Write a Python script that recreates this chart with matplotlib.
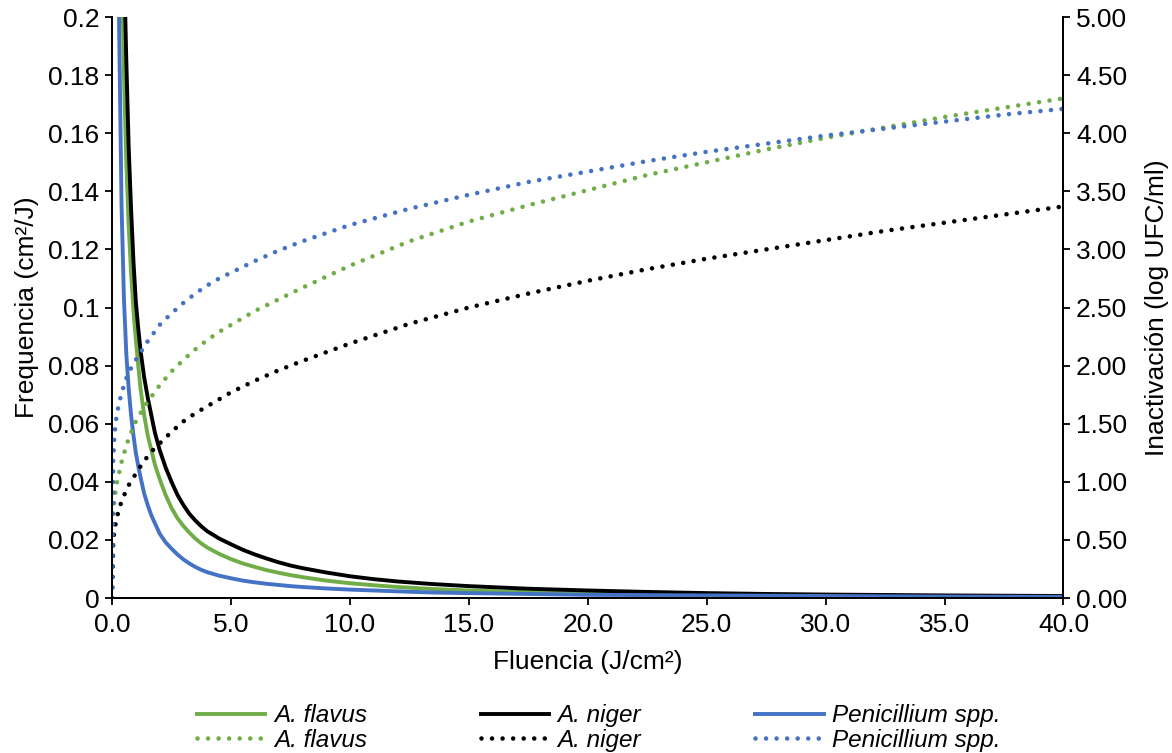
import matplotlib.pyplot as plt
from matplotlib.ticker import FuncFormatter, MultipleLocator

plt.rcParams['font.family'] = ['Liberation Sans', 'DejaVu Sans']

# frequency curves (left axis)
fluence_freq = [0.2, 0.3, 0.4, 0.5, 0.6, 0.7, 0.8, 0.9, 1.0, 1.1, 1.2, 1.35, 1.5, 1.65, 1.8,
                2.0, 2.25, 2.5, 2.75, 3.0, 3.25, 3.5, 3.75, 4.0, 4.5, 5.0, 5.5, 6.0, 6.5, 7.0,
                7.5, 8.0, 9.0, 10.0, 11.0, 12.0, 13.5, 15.0, 17.5, 20.0, 22.5, 25.0, 27.5,
                30.0, 35.0, 40.0]
freq_flavus = [0.45, 0.30, 0.225, 0.18, 0.150, 0.128, 0.112, 0.099, 0.089, 0.080, 0.072, 0.063,
               0.056, 0.051, 0.046, 0.041, 0.0355, 0.031, 0.0275, 0.0248, 0.0225, 0.0205,
               0.0188, 0.0174, 0.0152, 0.0134, 0.0119, 0.0107, 0.0096, 0.0087, 0.0079, 0.0072,
               0.0060, 0.0051, 0.0044, 0.0038, 0.0031, 0.0026, 0.0020, 0.0016, 0.0013, 0.0011,
               0.0009, 0.0008, 0.0006, 0.0005]
freq_niger = [0.55, 0.37, 0.28, 0.22, 0.185, 0.155, 0.134, 0.116, 0.102, 0.093, 0.085, 0.076,
              0.069, 0.063, 0.057, 0.051, 0.045, 0.040, 0.0355, 0.032, 0.029, 0.0267, 0.0247,
              0.023, 0.0205, 0.0185, 0.0166, 0.0150, 0.0136, 0.0123, 0.0112, 0.0103, 0.0088,
              0.0075, 0.0065, 0.0057, 0.0048, 0.0041, 0.0032, 0.0026, 0.0021, 0.0017, 0.0014,
              0.0012, 0.0009, 0.0007]
freq_penicillium = [0.29, 0.195, 0.135, 0.103, 0.084, 0.072, 0.063, 0.056, 0.050, 0.0455,
                    0.0415, 0.036, 0.032, 0.0285, 0.0258, 0.0222, 0.0192, 0.0170, 0.0150,
                    0.0133, 0.0119, 0.0107, 0.0097, 0.0089, 0.0077, 0.0068, 0.0060, 0.0054,
                    0.0049, 0.0045, 0.0041, 0.0038, 0.0033, 0.0029, 0.0026, 0.0023, 0.0019,
                    0.0017, 0.0014, 0.0011, 0.0010, 0.0009, 0.0008, 0.0007, 0.0005, 0.0004]

# inactivation curves (right axis)
fluence_inact = [0.0, 0.05, 0.1, 0.15, 0.2, 0.3, 0.4, 0.5, 0.6, 0.75, 1.0, 1.25, 1.5, 1.75,
                 2.0, 2.5, 3.0, 3.5, 4.0, 4.5, 5.0, 6.0, 7.0, 8.0, 10.0, 12.5, 15.0, 17.5,
                 20.0, 22.5, 25.0, 27.5, 30.0, 32.5, 35.0, 37.5, 40.0]
inact_flavus = [0.0, 0.72, 0.84, 0.92, 0.99, 1.08, 1.17, 1.24, 1.31, 1.40, 1.52, 1.61, 1.69,
                1.76, 1.83, 1.95, 2.05, 2.14, 2.22, 2.29, 2.35, 2.47, 2.57, 2.67, 2.86, 3.07,
                3.24, 3.38, 3.51, 3.64, 3.75, 3.86, 3.96, 4.05, 4.14, 4.22, 4.30]
inact_niger = [0.0, 0.50, 0.58, 0.64, 0.69, 0.77, 0.83, 0.88, 0.93, 0.99, 1.07, 1.15, 1.22,
               1.28, 1.33, 1.43, 1.52, 1.59, 1.65, 1.71, 1.77, 1.87, 1.96, 2.04, 2.19, 2.36,
               2.50, 2.62, 2.73, 2.83, 2.92, 3.00, 3.08, 3.16, 3.23, 3.30, 3.37]
inact_penicillium = [0.0, 1.18, 1.40, 1.50, 1.58, 1.68, 1.76, 1.83, 1.89, 1.96, 2.05, 2.13,
                     2.21, 2.28, 2.35, 2.45, 2.54, 2.62, 2.69, 2.75, 2.80, 2.90, 2.99, 3.07,
                     3.21, 3.35, 3.47, 3.58, 3.67, 3.76, 3.84, 3.91, 3.98, 4.04, 4.10, 4.16,
                     4.21]

names = ['A. flavus', 'A. niger', 'Penicillium spp.']
colors = ['#70AD47', '#000000', '#4472C4']

fig = plt.figure(figsize=(11.72, 7.53), dpi=100)
ax = fig.add_axes([0.0956, 0.2058, 0.8118, 0.7716])
ax2 = ax.twinx()

handles = []
freqs = [freq_flavus, freq_niger, freq_penicillium]
inacts = [inact_flavus, inact_niger, inact_penicillium]
for name, col, fr, ina in zip(names, colors, freqs, inacts):
    l1, = ax.plot(fluence_freq, fr, color=col, lw=2.8, solid_joinstyle='round')
    l2, = ax2.plot(fluence_inact, ina, color=col, lw=3.3,
                   linestyle=(0, (0.001, 2.3)), dash_capstyle='round')
    handles += [l1, l2]

ax.set_xlim(0, 40)
ax.set_ylim(0, 0.2)
ax2.set_ylim(0, 5)
ax.xaxis.set_major_locator(MultipleLocator(5))
ax.yaxis.set_major_locator(MultipleLocator(0.02))
ax2.yaxis.set_major_locator(MultipleLocator(0.5))
ax.xaxis.set_major_formatter(FuncFormatter(lambda v, p: f'{v:.1f}'))
ax.yaxis.set_major_formatter(FuncFormatter(lambda v, p: f'{round(v, 2):g}'))
ax2.yaxis.set_major_formatter(FuncFormatter(lambda v, p: f'{v:.2f}'))

for a in (ax, ax2):
    a.spines['top'].set_visible(False)
    for s in a.spines.values():
        s.set_linewidth(1.3)
        s.set_color('#000000')
    a.tick_params(direction='out', length=5, width=1.3, labelsize=19, pad=4, colors='black')
ax.tick_params(axis='x', pad=6)

ax.set_xlabel('Fluencia (J/cm²)', fontsize=19, labelpad=9)
ax.set_ylabel('Frequencia (cm²/J)', fontsize=19, labelpad=7)
ax2.set_ylabel('Inactivación (log UFC/ml)', fontsize=19, labelpad=13)

labels = [n for n in names for _ in range(2)]
leg = fig.legend(handles, labels, loc='center', bbox_to_anchor=(0.511, 0.033), ncol=3,
                 frameon=False, handlelength=2.8, handletextpad=0.35,
                 columnspacing=4.7, labelspacing=0.06, prop={'style': 'italic', 'size': 17.5})

fig.savefig('out.png', dpi=100)
